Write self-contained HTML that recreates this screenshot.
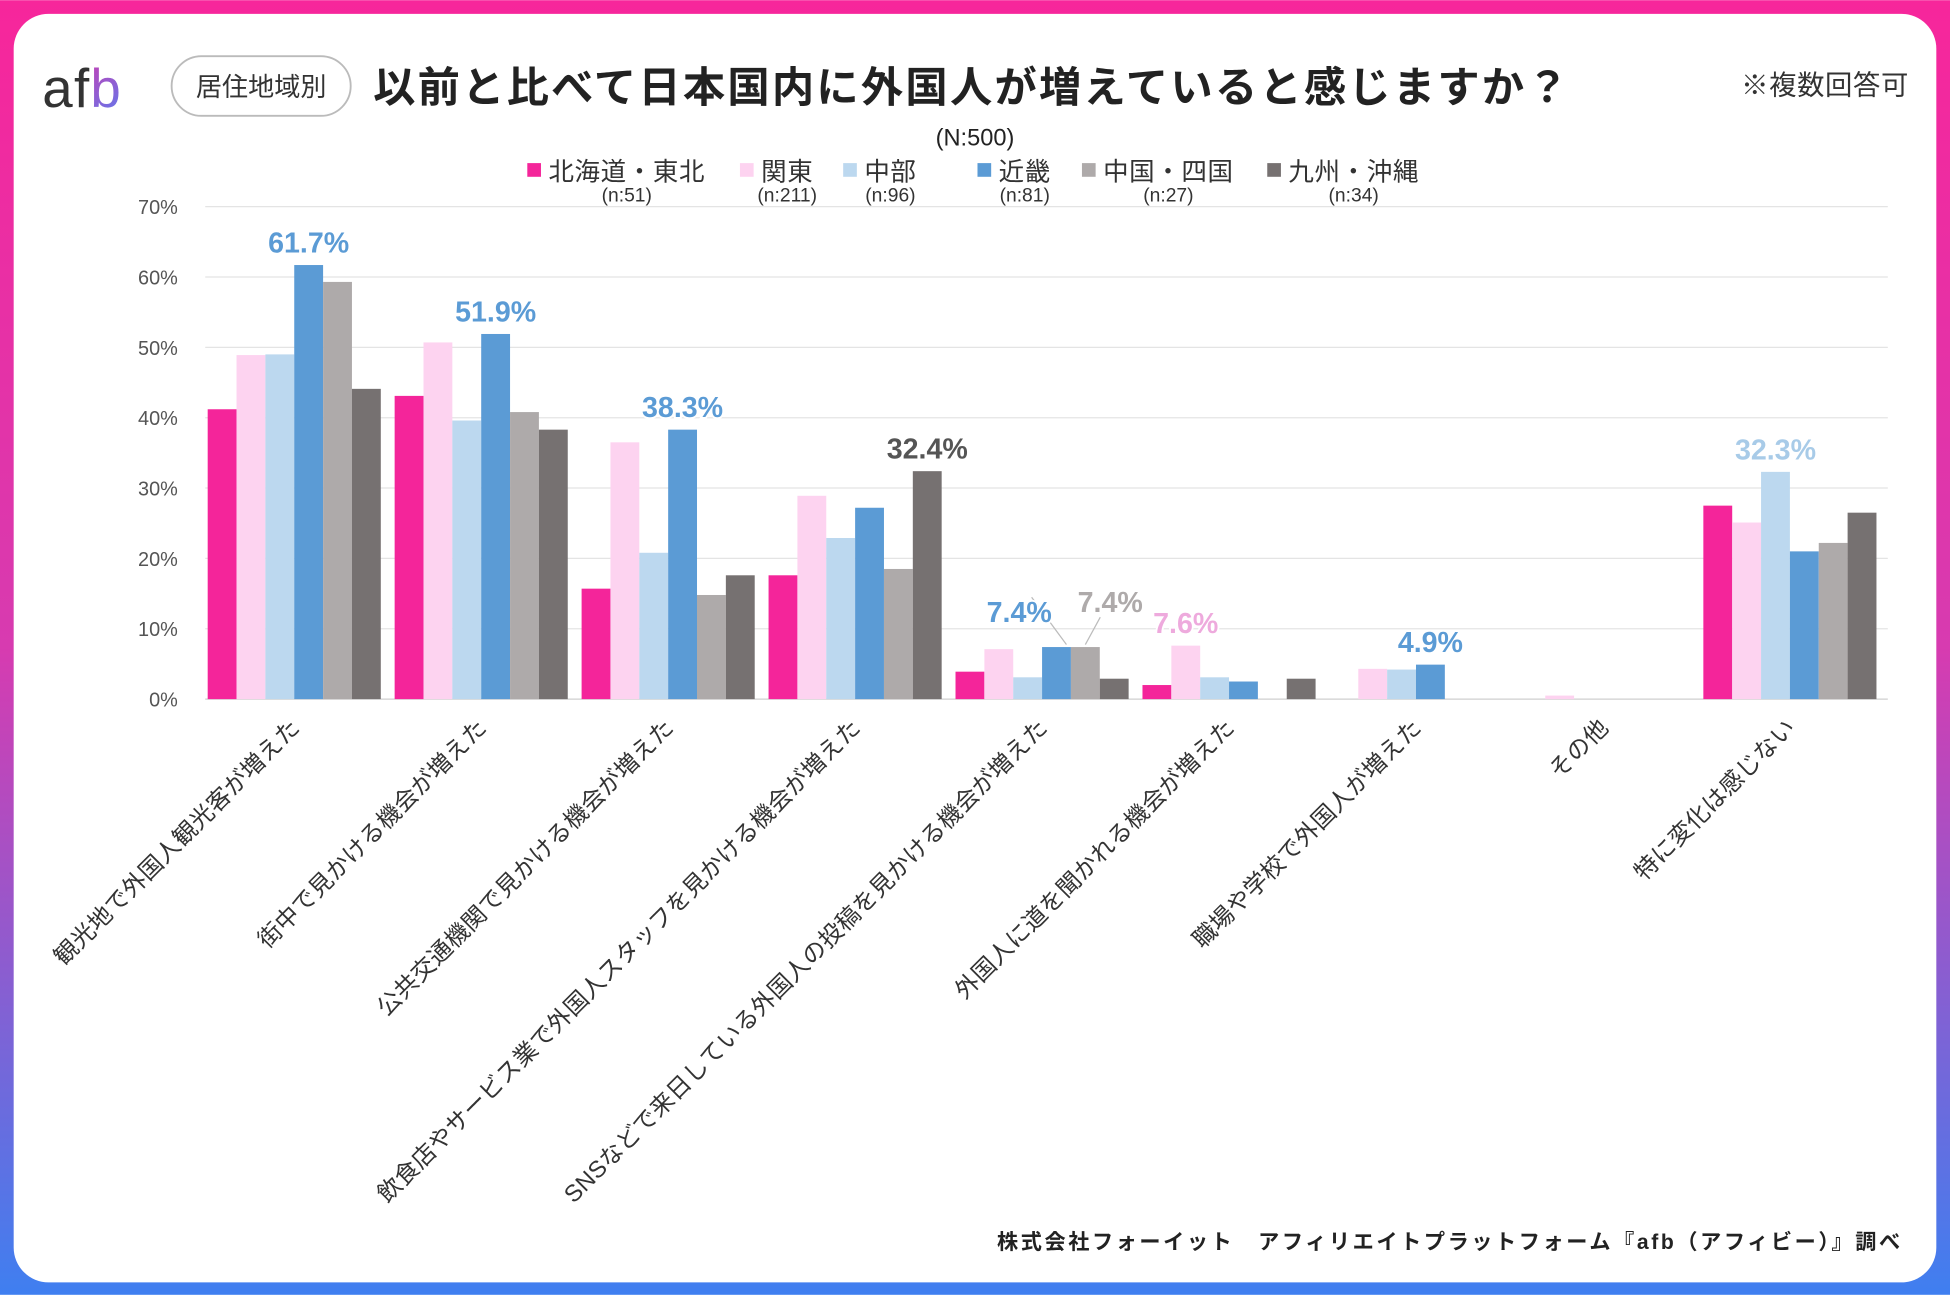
<!DOCTYPE html>
<html><head><meta charset="utf-8"><style>
html,body{margin:0;padding:0;background:#fff}
svg{display:block}
text{font-family:"Liberation Sans","Noto Sans CJK JP",sans-serif}
</style></head><body>
<svg id="chart" width="1950" height="1295" viewBox="0 0 1568 1041" xmlns="http://www.w3.org/2000/svg">
<defs>
<linearGradient id="frame" x1="0" y1="0" x2="0" y2="1">
<stop offset="0" stop-color="#f7269b"/><stop offset="0.5" stop-color="#d73bb0"/><stop offset="1" stop-color="#3f7ff0"/></linearGradient>
<linearGradient id="logo" x1="0" y1="0" x2="1" y2="1"><stop offset="0" stop-color="#f4259a"/><stop offset="1" stop-color="#5b7cf0"/></linearGradient>
</defs>
<rect x="0" y="0" width="1568" height="1041" fill="url(#frame)"/>
<rect x="11" y="11" width="1546" height="1020" rx="28" fill="#fff"/>
<text x="34" y="86" font-size="44" fill="#333" letter-spacing="1">af<tspan fill="url(#logo)">b</tspan></text>
<rect x="138" y="45" width="144" height="48" rx="24" fill="#fff" stroke="#bbb" stroke-width="1.5"/>
<text x="210" y="77" font-size="21" text-anchor="middle" fill="#333">居住地域別</text>
<text x="300" y="82" font-size="34" font-weight="bold" fill="#222" letter-spacing="1.8">以前と比べて日本国内に外国人が増えていると感じますか？</text>
<text x="1535" y="76" font-size="22" text-anchor="end" fill="#333" letter-spacing="0.5">※複数回答可</text>
<text x="784" y="117" font-size="19" text-anchor="middle" fill="#222">(N:500)</text>
<g id="legend"></g>
<g id="grid"></g><g id="bars"></g><g id="labels"></g>
<text x="1530" y="1004" font-size="17" font-weight="bold" text-anchor="end" fill="#222" letter-spacing="2.1">株式会社フォーイット　アフィリエイトプラットフォーム『afb（アフィビー）』調べ</text>
</svg>
<script>
const categories=["観光地で外国人観光客が増えた","街中で見かける機会が増えた","公共交通機関で見かける機会が増えた","飲食店やサービス業で外国人スタッフを見かける機会が増えた","SNSなどで来日している外国人の投稿を見かける機会が増えた","外国人に道を聞かれる機会が増えた","職場や学校で外国人が増えた","その他","特に変化は感じない"];
const seriesNames=["北海道・東北","関東","中部","近畿","中国・四国","九州・沖縄"];
const seriesN=["(n:51)","(n:211)","(n:96)","(n:81)","(n:27)","(n:34)"];
const hokkaido=[41.2,43.1,15.7,17.6,3.9,2.0,0,0,27.5];
const kanto=[48.9,50.7,36.5,28.9,7.1,7.6,4.3,0.5,25.1];
const chubu=[49.0,39.6,20.8,22.9,3.1,3.1,4.2,0,32.3];
const kinki=[61.7,51.9,38.3,27.2,7.4,2.5,4.9,0,21.0];
const chugoku=[59.3,40.8,14.8,18.5,7.4,0,0,0,22.2];
const kyushu=[44.1,38.3,17.6,32.4,2.9,2.9,0,0,26.5];
const yTicks=[0,10,20,30,40,50,60,70];
const highlights=[[0,3],[1,3],[2,3],[3,5],[4,3],[4,4],[5,1],[6,3],[8,2]];
const series=[hokkaido,kanto,chubu,kinki,chugoku,kyushu];
const colors=["#f4259a","#fdd3f0","#bcd8ef","#5b9bd5","#aeaaaa","#767171"];
const labelColors=["#f4259a","#eeaadd","#a8cbe8","#5b9bd5","#aeaaaa","#555"];
const NS="http://www.w3.org/2000/svg";
const x0=165,x1=1518,y0=562,yTop=166;
const gw=(x1-x0)/categories.length, bw=23.2, pad=2;
const yS=v=>y0-(v/70)*(y0-yTop);
const xS=(c,s)=>x0+c*gw+pad+s*bw;
function mk(t,a,p){const e=document.createElementNS(NS,t);for(const k in a)e.setAttribute(k,a[k]);(p||document.getElementById('chart')).appendChild(e);return e;}
const grid=document.getElementById('grid'),bars=document.getElementById('bars'),labels=document.getElementById('labels'),legend=document.getElementById('legend');
yTicks.forEach(t=>{
 const l=mk('line',{x1:x0,x2:x1,y1:yS(t),y2:yS(t),stroke:t?"#e4e4e4":"#cfcfcf","stroke-width":1},grid);
 
 
 const tx=mk('text',{x:143,y:yS(t)+6,"font-size":16,"text-anchor":"end",fill:"#555"},grid);
 tx.textContent=t+"%";
 
 
});
const legX=[424,595,678,786,870,1019];
seriesNames.forEach((n,i)=>{
 const r=mk('rect',{x:legX[i],y:131,width:11,height:11,fill:colors[i]},legend);
 
 
 const t=mk('text',{x:legX[i]+17,y:145,"font-size":20.5,fill:"#333","letter-spacing":0.5},legend);
 t.textContent=n;
 
 
 const w=n.length*21;
 const t2=mk('text',{x:legX[i]+17+w/2,y:162,"font-size":15.5,"text-anchor":"middle",fill:"#333"},legend);
 t2.textContent=seriesN[i];
 
 
});
categories.forEach((c,ci)=>{
 series.forEach((s,si)=>{
  const v=s[ci]; if(v<=0) return;
  const r=mk('rect',{x:xS(ci,si),y:yS(v),width:bw,height:y0-yS(v),fill:colors[si]},bars);
  
  
 });
 const cx=x0+ci*gw+gw/2+2, cy=586;
 const t=mk('text',{x:cx,y:cy,"font-size":19,"text-anchor":"end",fill:"#333","letter-spacing":0.3,transform:`rotate(-45 ${cx} ${cy})`},labels);
 t.textContent=c;
 
 
});
highlights.forEach(([ci,si])=>{
 const v=series[si][ci];
 let lx=xS(ci,si)+bw/2, ly=yS(v)-10;
 if(ci===4&&si===3){lx-=30;ly-=10;}
 if(ci===4&&si===4){lx+=20;ly-=18;mk('line',{x1:xS(ci,si)+bw/2,y1:yS(v)-2,x2:lx-8,y2:ly+4,stroke:"#bbb"},labels);}
 if(ci===4&&si===3){mk('line',{x1:xS(ci,si)+bw/2+8,y1:yS(v)-2,x2:lx+10,y2:ly-20,stroke:"#bbb"},labels);}
 const t=mk('text',{x:lx,y:ly,"font-size":23,"font-weight":"bold","text-anchor":"middle",fill:labelColors[si],stroke:"#fff","stroke-width":3,"paint-order":"stroke"},labels);
 t.textContent=v.toFixed(1)+"%";
 
 
});
</script>
</body></html>
